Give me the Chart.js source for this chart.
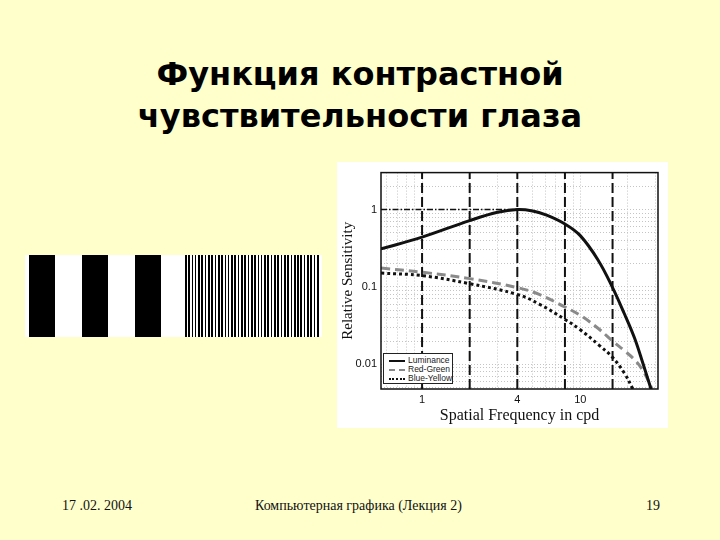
<!DOCTYPE html>
<html>
<head>
<meta charset="utf-8">
<script src="https://cdn.jsdelivr.net/npm/chart.js@4.4.0/dist/chart.umd.min.js"></script>
<style>
  html, body { margin: 0; padding: 0; }
  body { width: 720px; height: 540px; background: #ffffcc; position: relative; overflow: hidden; font-family: "Liberation Serif", serif; }
  #title { position: absolute; left: 0; top: 53px; width: 720px; text-align: center; font-family: "DejaVu Sans", sans-serif; font-weight: bold; font-size: 32px; line-height: 42px; color: #000; }
  #grating { position: absolute; left: 25px; top: 255px; width: 297px; height: 82px; background: #fff; }
  .bar { position: absolute; top: 0; width: 26px; height: 82px; background: #000; }
  #fine { position: absolute; left: 160px; top: 0; width: 135px; height: 82px; background: repeating-linear-gradient(90deg, #000 0 1.6px, #fff 1.6px 3.3px); }
  #panel { position: absolute; left: 337px; top: 162px; width: 331px; height: 266px; background: #fff; }
  #legend { position: absolute; left: 46px; top: 191px; width: 70px; height: 31px; border: 1px solid #222; background: #fff; box-sizing: border-box; font-family: "Liberation Sans", Arial, sans-serif; font-size: 8.5px; color: #222; }
  .row { position: absolute; left: 5px; height: 9px; line-height: 9px; white-space: nowrap; }
  .row span { display: inline-block; width: 16px; margin-right: 3px; vertical-align: middle; }
  .foot { position: absolute; top: 498px; font-size: 14px; color: #111; }
</style>
</head>
<body>
<div id="title">Функция контрастной<br>чувствительности глаза</div>

<div id="grating">
  <div class="bar" style="left:4px"></div>
  <div class="bar" style="left:57px"></div>
  <div class="bar" style="left:110px"></div>
  <div id="fine"></div>
</div>

<div id="panel">
  <canvas id="csfChart" width="331" height="266"></canvas>
  <div id="legend">
    <div class="row" style="top:2px"><span style="border-top:2px solid #111"></span>Luminance</div>
    <div class="row" style="top:11px"><span style="border-top:2px dashed #888"></span>Red-Green</div>
    <div class="row" style="top:20px"><span style="border-top:2px dotted #111"></span>Blue-Yellow</div>
  </div>
</div>

<div class="foot" style="left:62px">17 .02. 2004</div>
<div class="foot" style="left:255px">Компьютерная графика (Лекция 2)</div>
<div class="foot" style="left:646px">19</div>

<script>
// данные (частота в cpd, относительная чувствительность)
const lumFreq = [0.55, 1, 2, 3, 4, 5, 6, 8, 10, 13, 16, 19, 22, 25, 28];
const lumSens = [0.31, 0.44, 0.72, 0.92, 1.0, 0.96, 0.86, 0.65, 0.46, 0.22, 0.098, 0.045, 0.022, 0.010, 0.0048];

const rgFreq = [0.55, 1, 2, 4, 5.5, 8, 10, 13, 16, 19, 22, 25, 28.5];
const rgSens = [0.175, 0.155, 0.128, 0.098, 0.080, 0.055, 0.043, 0.029, 0.020, 0.015, 0.0115, 0.0082, 0.0048];

const byFreq = [0.55, 1, 2, 4, 5.5, 8, 10, 13, 16, 19, 21.5];
const bySens = [0.151, 0.14, 0.11, 0.080, 0.060, 0.038, 0.028, 0.018, 0.0123, 0.0077, 0.0048];

// вертикальные штриховые линии и уровень 1
const markerFreqs = [1, 2, 4, 8, 16];
const refLevel = 1;
const refFreq = 4;

// оси
const xMin = 0.55, xMax = 31;
const yMin = 0.0048, yMax = 3.0;
const xTickLabels = [1, 4, 10];
const yTickLabels = [0.01, 0.1, 1];
const xGrid = [0.6, 0.7, 0.8, 0.9, 1, 2, 3, 4, 5, 6, 7, 8, 9, 10, 20, 30];
const yGrid = [0.005, 0.006, 0.007, 0.008, 0.009, 0.01, 0.02, 0.03, 0.04, 0.05, 0.06, 0.07, 0.08, 0.09,
               0.1, 0.2, 0.3, 0.4, 0.5, 0.6, 0.7, 0.8, 0.9, 1, 2, 3];

const toPoints = (xs, ys) => xs.map((x, i) => ({ x: x, y: ys[i] }));

const datasets = [
    {
        label: 'Luminance',
        data: toPoints(lumFreq, lumSens),
        borderColor: '#111',
        borderWidth: 3,
        tension: 0.4
    },
    {
        label: 'Red-Green',
        data: toPoints(rgFreq, rgSens),
        borderColor: '#8a8a8a',
        borderWidth: 3,
        borderDash: [9, 5],
        tension: 0.4
    },
    {
        label: 'Blue-Yellow',
        data: toPoints(byFreq, bySens),
        borderColor: '#111',
        borderWidth: 3,
        borderDash: [3, 3],
        tension: 0.4
    },
    {
        label: 'ref',
        data: [{ x: xMin, y: refLevel }, { x: refFreq, y: refLevel }],
        borderColor: '#111',
        borderWidth: 1.5,
        borderDash: [6, 2, 1.5, 2]
    }
];

markerFreqs.forEach(f => {
    datasets.push({
        label: 'marker ' + f,
        data: [{ x: f, y: yMin }, { x: f, y: yMax }],
        borderColor: '#111',
        borderWidth: 2,
        borderDash: [10, 4]
    });
});

const framePlugin = {
    id: 'frame',
    afterDatasetsDraw(chart) {
        const a = chart.chartArea;
        const c = chart.ctx;
        c.save();
        c.strokeStyle = '#111';
        c.lineWidth = 1.5;
        c.strokeRect(a.left, a.top, a.right - a.left, a.bottom - a.top);
        c.restore();
    }
};

new Chart(document.getElementById('csfChart'), {
    type: 'line',
    data: { datasets: datasets },
    plugins: [framePlugin],
    options: {
        responsive: false,
        animation: false,
        layout: { padding: { top: 8, right: 10, left: 0, bottom: 0 } },
        elements: { point: { radius: 0 } },
        plugins: {
            legend: { display: false },
            tooltip: { enabled: false }
        },
        scales: {
            x: {
                type: 'logarithmic',
                min: xMin,
                max: xMax,
                afterFit: s => { s.height = 39; },
                afterBuildTicks: s => { s.ticks = xGrid.map(v => ({ value: v })); },
                ticks: {
                    autoSkip: false,
                    maxRotation: 0,
                    padding: 4,
                    color: '#111',
                    font: { family: 'Liberation Sans', size: 11 },
                    callback: v => xTickLabels.includes(v) ? String(v) : ''
                },
                grid: { color: '#c4c4c4', lineWidth: 1, drawTicks: false },
                border: { display: false, dash: [1, 2] },
                title: {
                    display: true,
                    text: 'Spatial Frequency in cpd',
                    color: '#111',
                    font: { family: 'Liberation Serif', size: 16 },
                    padding: { top: 0, bottom: 3 }
                }
            },
            y: {
                type: 'logarithmic',
                min: yMin,
                max: yMax,
                afterFit: s => { s.width = 44; },
                afterBuildTicks: s => { s.ticks = yGrid.map(v => ({ value: v })); },
                ticks: {
                    autoSkip: false,
                    padding: 4,
                    color: '#111',
                    font: { family: 'Liberation Sans', size: 11 },
                    callback: v => yTickLabels.includes(v) ? String(v) : ''
                },
                grid: { color: '#c4c4c4', lineWidth: 1, drawTicks: false },
                border: { display: false, dash: [1, 2] },
                title: {
                    display: true,
                    text: 'Relative Sensitivity',
                    color: '#111',
                    font: { family: 'Liberation Serif', size: 15 },
                    padding: 2
                }
            }
        }
    }
});
</script>
</body>
</html>
